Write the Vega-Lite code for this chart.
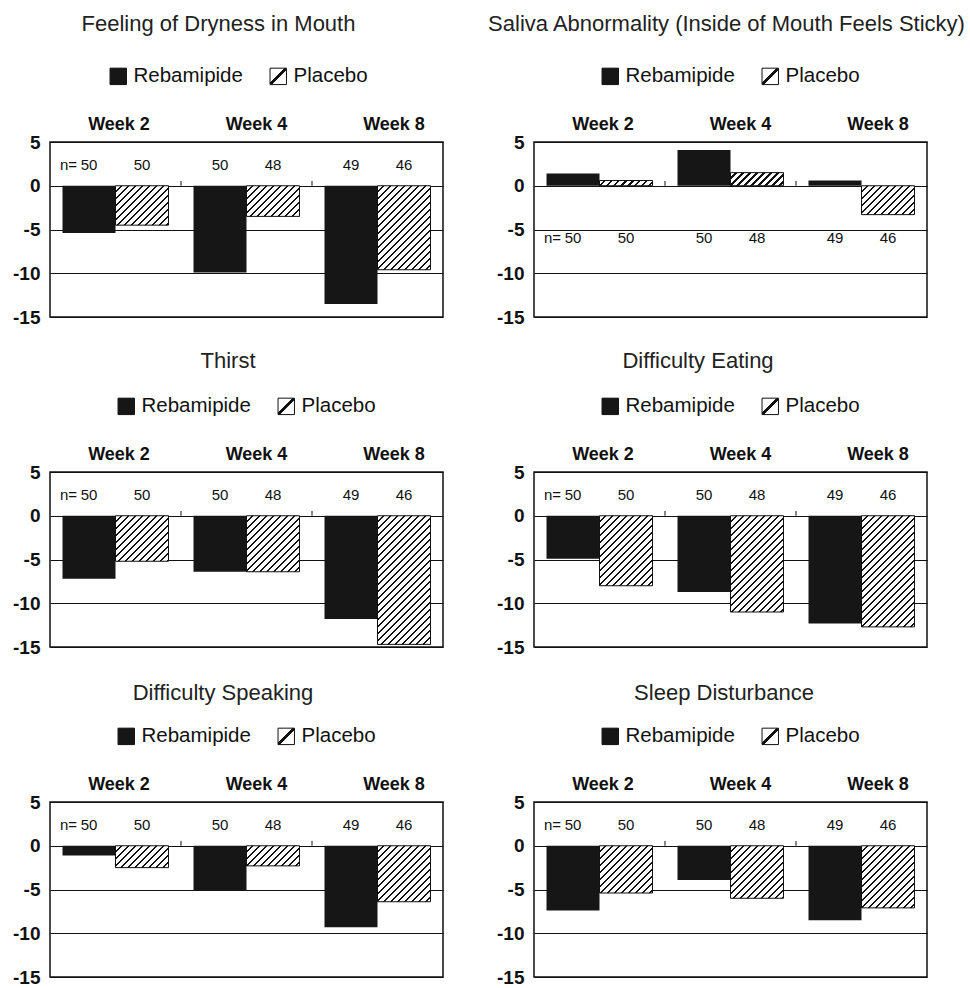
{
"$schema": "https://vega.github.io/schema/vega-lite/v6.json",
"padding": {"left": 11, "top": 12, "right": 0, "bottom": 0},
"config": {
  "font": "Liberation Sans",
  "view": {"stroke": "#111", "strokeWidth": 1.5},
  "title": {"fontSize": 22, "fontWeight": "normal", "color": "#222", "frame": "group", "anchor": "middle"},
  "legend": {"layout": {"top": {"anchor": "middle"}}},
  "axis": {"labelColor": "#111"}
},
"params": [
{"name": "legendHatch", "value": {"gradient": "linear", "x1": 0, "y1": 0, "x2": 1, "y2": 1, "stops": [{"offset":0,"color":"#fff"},{"offset":0.44,"color":"#fff"},{"offset":0.44,"color":"#111"},{"offset":0.56,"color":"#111"},{"offset":0.56,"color":"#fff"},{"offset":1,"color":"#fff"}]}},
{"name": "hatchStops", "value": [
{"offset":0,"color":"#fff"},{"offset":0.0245,"color":"#fff"},{"offset":0.0245,"color":"#111"},{"offset":0.0357,"color":"#111"},
{"offset":0.0357,"color":"#fff"},{"offset":0.0602,"color":"#fff"},{"offset":0.0602,"color":"#111"},{"offset":0.0714,"color":"#111"},
{"offset":0.0714,"color":"#fff"},{"offset":0.0959,"color":"#fff"},{"offset":0.0959,"color":"#111"},{"offset":0.1071,"color":"#111"},
{"offset":0.1071,"color":"#fff"},{"offset":0.1316,"color":"#fff"},{"offset":0.1316,"color":"#111"},{"offset":0.1429,"color":"#111"},
{"offset":0.1429,"color":"#fff"},{"offset":0.1674,"color":"#fff"},{"offset":0.1674,"color":"#111"},{"offset":0.1786,"color":"#111"},
{"offset":0.1786,"color":"#fff"},{"offset":0.2031,"color":"#fff"},{"offset":0.2031,"color":"#111"},{"offset":0.2143,"color":"#111"},
{"offset":0.2143,"color":"#fff"},{"offset":0.2388,"color":"#fff"},{"offset":0.2388,"color":"#111"},{"offset":0.25,"color":"#111"},
{"offset":0.25,"color":"#fff"},{"offset":0.2745,"color":"#fff"},{"offset":0.2745,"color":"#111"},{"offset":0.2857,"color":"#111"},
{"offset":0.2857,"color":"#fff"},{"offset":0.3102,"color":"#fff"},{"offset":0.3102,"color":"#111"},{"offset":0.3214,"color":"#111"},
{"offset":0.3214,"color":"#fff"},{"offset":0.3459,"color":"#fff"},{"offset":0.3459,"color":"#111"},{"offset":0.3571,"color":"#111"},
{"offset":0.3571,"color":"#fff"},{"offset":0.3816,"color":"#fff"},{"offset":0.3816,"color":"#111"},{"offset":0.3929,"color":"#111"},
{"offset":0.3929,"color":"#fff"},{"offset":0.4174,"color":"#fff"},{"offset":0.4174,"color":"#111"},{"offset":0.4286,"color":"#111"},
{"offset":0.4286,"color":"#fff"},{"offset":0.4531,"color":"#fff"},{"offset":0.4531,"color":"#111"},{"offset":0.4643,"color":"#111"},
{"offset":0.4643,"color":"#fff"},{"offset":0.4888,"color":"#fff"},{"offset":0.4888,"color":"#111"},{"offset":0.5,"color":"#111"},
{"offset":0.5,"color":"#fff"},{"offset":0.5245,"color":"#fff"},{"offset":0.5245,"color":"#111"},{"offset":0.5357,"color":"#111"},
{"offset":0.5357,"color":"#fff"},{"offset":0.5602,"color":"#fff"},{"offset":0.5602,"color":"#111"},{"offset":0.5714,"color":"#111"},
{"offset":0.5714,"color":"#fff"},{"offset":0.5959,"color":"#fff"},{"offset":0.5959,"color":"#111"},{"offset":0.6071,"color":"#111"},
{"offset":0.6071,"color":"#fff"},{"offset":0.6316,"color":"#fff"},{"offset":0.6316,"color":"#111"},{"offset":0.6429,"color":"#111"},
{"offset":0.6429,"color":"#fff"},{"offset":0.6674,"color":"#fff"},{"offset":0.6674,"color":"#111"},{"offset":0.6786,"color":"#111"},
{"offset":0.6786,"color":"#fff"},{"offset":0.7031,"color":"#fff"},{"offset":0.7031,"color":"#111"},{"offset":0.7143,"color":"#111"},
{"offset":0.7143,"color":"#fff"},{"offset":0.7388,"color":"#fff"},{"offset":0.7388,"color":"#111"},{"offset":0.75,"color":"#111"},
{"offset":0.75,"color":"#fff"},{"offset":0.7745,"color":"#fff"},{"offset":0.7745,"color":"#111"},{"offset":0.7857,"color":"#111"},
{"offset":0.7857,"color":"#fff"},{"offset":0.8102,"color":"#fff"},{"offset":0.8102,"color":"#111"},{"offset":0.8214,"color":"#111"},
{"offset":0.8214,"color":"#fff"},{"offset":0.8459,"color":"#fff"},{"offset":0.8459,"color":"#111"},{"offset":0.8571,"color":"#111"},
{"offset":0.8571,"color":"#fff"},{"offset":0.8816,"color":"#fff"},{"offset":0.8816,"color":"#111"},{"offset":0.8929,"color":"#111"},
{"offset":0.8929,"color":"#fff"},{"offset":0.9174,"color":"#fff"},{"offset":0.9174,"color":"#111"},{"offset":0.9286,"color":"#111"},
{"offset":0.9286,"color":"#fff"},{"offset":0.9531,"color":"#fff"},{"offset":0.9531,"color":"#111"},{"offset":0.9643,"color":"#111"},
{"offset":0.9643,"color":"#fff"},{"offset":0.9888,"color":"#fff"},{"offset":0.9888,"color":"#111"},{"offset":1,"color":"#111"}
]}],
"datasets": {"d": [
{"panel":"Dryness","week":"Week 2","group":"Rebamipide","value":-5.4,"n":50},
{"panel":"Dryness","week":"Week 2","group":"Placebo","value":-4.5,"n":50},
{"panel":"Dryness","week":"Week 4","group":"Rebamipide","value":-9.9,"n":50},
{"panel":"Dryness","week":"Week 4","group":"Placebo","value":-3.5,"n":48},
{"panel":"Dryness","week":"Week 8","group":"Rebamipide","value":-13.5,"n":49},
{"panel":"Dryness","week":"Week 8","group":"Placebo","value":-9.6,"n":46},
{"panel":"Saliva","week":"Week 2","group":"Rebamipide","value":1.4,"n":50},
{"panel":"Saliva","week":"Week 2","group":"Placebo","value":0.6,"n":50},
{"panel":"Saliva","week":"Week 4","group":"Rebamipide","value":4.1,"n":50},
{"panel":"Saliva","week":"Week 4","group":"Placebo","value":1.5,"n":48},
{"panel":"Saliva","week":"Week 8","group":"Rebamipide","value":0.6,"n":49},
{"panel":"Saliva","week":"Week 8","group":"Placebo","value":-3.3,"n":46},
{"panel":"Thirst","week":"Week 2","group":"Rebamipide","value":-7.2,"n":50},
{"panel":"Thirst","week":"Week 2","group":"Placebo","value":-5.2,"n":50},
{"panel":"Thirst","week":"Week 4","group":"Rebamipide","value":-6.4,"n":50},
{"panel":"Thirst","week":"Week 4","group":"Placebo","value":-6.4,"n":48},
{"panel":"Thirst","week":"Week 8","group":"Rebamipide","value":-11.8,"n":49},
{"panel":"Thirst","week":"Week 8","group":"Placebo","value":-14.7,"n":46},
{"panel":"Eating","week":"Week 2","group":"Rebamipide","value":-4.9,"n":50},
{"panel":"Eating","week":"Week 2","group":"Placebo","value":-8.0,"n":50},
{"panel":"Eating","week":"Week 4","group":"Rebamipide","value":-8.7,"n":50},
{"panel":"Eating","week":"Week 4","group":"Placebo","value":-11.0,"n":48},
{"panel":"Eating","week":"Week 8","group":"Rebamipide","value":-12.3,"n":49},
{"panel":"Eating","week":"Week 8","group":"Placebo","value":-12.7,"n":46},
{"panel":"Speaking","week":"Week 2","group":"Rebamipide","value":-1.1,"n":50},
{"panel":"Speaking","week":"Week 2","group":"Placebo","value":-2.5,"n":50},
{"panel":"Speaking","week":"Week 4","group":"Rebamipide","value":-5.1,"n":50},
{"panel":"Speaking","week":"Week 4","group":"Placebo","value":-2.3,"n":48},
{"panel":"Speaking","week":"Week 8","group":"Rebamipide","value":-9.3,"n":49},
{"panel":"Speaking","week":"Week 8","group":"Placebo","value":-6.4,"n":46},
{"panel":"Sleep","week":"Week 2","group":"Rebamipide","value":-7.4,"n":50},
{"panel":"Sleep","week":"Week 2","group":"Placebo","value":-5.4,"n":50},
{"panel":"Sleep","week":"Week 4","group":"Rebamipide","value":-3.9,"n":50},
{"panel":"Sleep","week":"Week 4","group":"Placebo","value":-6.0,"n":48},
{"panel":"Sleep","week":"Week 8","group":"Rebamipide","value":-8.5,"n":49},
{"panel":"Sleep","week":"Week 8","group":"Placebo","value":-7.1,"n":46}
]},
"columns": 2,
"bounds": "flush",
"spacing": {"row": 155, "column": 91},
"resolve": {"scale": {"fill": "independent"}, "legend": {"fill": "independent"}},
"concat": [
{"width": 393, "height": 175, "title": {"text": "Feeling of Dryness in Mouth", "dx": -28, "offset": 30},
 "data": {"name": "d"}, "transform": [{"filter": "datum.panel === 'Dryness'"}],
 "layer": [
  {"mark": {"type": "bar"}, "encoding": {
    "x": {"field": "week", "type": "nominal", "scale": {"domain": ["Week 2","Week 4","Week 8"], "paddingInner": 0, "paddingOuter": 0}, "axis": {"orient": "top", "title": null, "ticks": false, "domain": false, "labelAngle": 0, "labelFontSize": 18, "labelFontWeight": "bold", "labelPadding": 9, "labelOffset": {"condition": [{"test": "datum.value === 'Week 2'", "value": 3.5}, {"test": "datum.value === 'Week 8'", "value": 16.5}], "value": 10}}},
    "xOffset": {"field": "group", "type": "nominal", "scale": {"domain": ["Rebamipide","Placebo"], "paddingInner": 0, "paddingOuter": 0.236}},
    "y": {"field": "value", "type": "quantitative", "scale": {"domain": [-15, 5], "nice": false}, "axis": {"values": [-15,-10,-5,0,5], "labelExpr": "'' + datum.value", "title": null, "grid": true, "gridColor": "#111", "gridOpacity": 1, "gridWidth": 1, "domain": false, "ticks": false, "labelPadding": 10, "labelFontSize": 19, "labelFontWeight": "bold"}},
    "fill": {"field": "group", "type": "nominal", "scale": {"domain": ["Rebamipide","Placebo"], "range": ["#161616", {"expr": "legendHatch"}]},
      "legend": {"orient": "none", "legendX": 58, "legendY": -76, "direction": "horizontal", "title": null, "symbolType": "square", "symbolSize": 270, "symbolStrokeColor": "#111", "symbolStrokeWidth": 1, "labelFontSize": 20.5, "labelOffset": 5, "columnPadding": 25, "labelColor": "#111"}}
  }},
  {"transform": [{"filter": "datum.group === 'Placebo'"}], "mark": {"type": "bar", "stroke": "#111", "strokeWidth": 1}, "encoding": {
    "x": {"field": "week", "type": "nominal"}, "xOffset": {"field": "group", "type": "nominal"}, "y": {"field": "value", "type": "quantitative"},
    "fill": {"value": {"expr": "{gradient: 'linear', x1: 0, y1: 0, x2: 10388/(2809 + pow(abs(datum.value)*8.75, 2)), y2: 1715*abs(datum.value)/(2809 + pow(abs(datum.value)*8.75, 2)), stops: hatchStops}"}}
  }},
  {"transform": [{"filter": "datum.group === 'Rebamipide' && datum.week !== 'Week 2'"}], "mark": {"type": "rule", "color": "#111", "strokeWidth": 1}, "encoding": {
    "x": {"field": "week", "type": "nominal", "bandPosition": 0}, "y": {"datum": 0}, "y2": {"datum": 0.55}
  }},
  {"mark": {"type": "text", "fontSize": 15, "color": "#111"}, "encoding": {
    "x": {"field": "week", "type": "nominal"}, "xOffset": {"field": "group", "type": "nominal"}, "y": {"datum": 2.4}, "text": {"field": "n"}
  }},
  {"transform": [{"filter": "datum.group === 'Rebamipide' && datum.week === 'Week 2'"}], "mark": {"type": "text", "fontSize": 15, "color": "#111", "align": "right", "dx": -12, "text": "n="}, "encoding": {
    "x": {"field": "week", "type": "nominal"}, "xOffset": {"field": "group", "type": "nominal"}, "y": {"datum": 2.4}
  }}
 ]},
{"width": 393, "height": 175, "title": {"text": "Saliva Abnormality (Inside of Mouth Feels Sticky)", "dx": -4, "offset": 30},
 "data": {"name": "d"}, "transform": [{"filter": "datum.panel === 'Saliva'"}],
 "layer": [
  {"mark": {"type": "bar"}, "encoding": {
    "x": {"field": "week", "type": "nominal", "scale": {"domain": ["Week 2","Week 4","Week 8"], "paddingInner": 0, "paddingOuter": 0}, "axis": {"orient": "top", "title": null, "ticks": false, "domain": false, "labelAngle": 0, "labelFontSize": 18, "labelFontWeight": "bold", "labelPadding": 9, "labelOffset": {"condition": [{"test": "datum.value === 'Week 2'", "value": 3.5}, {"test": "datum.value === 'Week 8'", "value": 16.5}], "value": 10}}},
    "xOffset": {"field": "group", "type": "nominal", "scale": {"domain": ["Rebamipide","Placebo"], "paddingInner": 0, "paddingOuter": 0.236}},
    "y": {"field": "value", "type": "quantitative", "scale": {"domain": [-15, 5], "nice": false}, "axis": {"values": [-15,-10,-5,0,5], "labelExpr": "'' + datum.value", "title": null, "grid": true, "gridColor": "#111", "gridOpacity": 1, "gridWidth": 1, "domain": false, "ticks": false, "labelPadding": 10, "labelFontSize": 19, "labelFontWeight": "bold"}},
    "fill": {"field": "group", "type": "nominal", "scale": {"domain": ["Rebamipide","Placebo"], "range": ["#161616", {"expr": "legendHatch"}]},
      "legend": {"orient": "none", "legendX": 66, "legendY": -76, "direction": "horizontal", "title": null, "symbolType": "square", "symbolSize": 270, "symbolStrokeColor": "#111", "symbolStrokeWidth": 1, "labelFontSize": 20.5, "labelOffset": 5, "columnPadding": 25, "labelColor": "#111"}}
  }},
  {"transform": [{"filter": "datum.group === 'Placebo'"}], "mark": {"type": "bar", "stroke": "#111", "strokeWidth": 1}, "encoding": {
    "x": {"field": "week", "type": "nominal"}, "xOffset": {"field": "group", "type": "nominal"}, "y": {"field": "value", "type": "quantitative"},
    "fill": {"value": {"expr": "{gradient: 'linear', x1: 0, y1: 0, x2: 10388/(2809 + pow(abs(datum.value)*8.75, 2)), y2: 1715*abs(datum.value)/(2809 + pow(abs(datum.value)*8.75, 2)), stops: hatchStops}"}}
  }},
  {"transform": [{"filter": "datum.group === 'Rebamipide' && datum.week !== 'Week 2'"}], "mark": {"type": "rule", "color": "#111", "strokeWidth": 1}, "encoding": {
    "x": {"field": "week", "type": "nominal", "bandPosition": 0}, "y": {"datum": 0}, "y2": {"datum": 0.55}
  }},
  {"mark": {"type": "text", "fontSize": 15, "color": "#111"}, "encoding": {
    "x": {"field": "week", "type": "nominal"}, "xOffset": {"field": "group", "type": "nominal"}, "y": {"datum": -6.0}, "text": {"field": "n"}
  }},
  {"transform": [{"filter": "datum.group === 'Rebamipide' && datum.week === 'Week 2'"}], "mark": {"type": "text", "fontSize": 15, "color": "#111", "align": "right", "dx": -12, "text": "n="}, "encoding": {
    "x": {"field": "week", "type": "nominal"}, "xOffset": {"field": "group", "type": "nominal"}, "y": {"datum": -6.0}
  }}
 ]},
{"width": 393, "height": 175, "title": {"text": "Thirst", "dx": -18.5, "offset": 23},
 "data": {"name": "d"}, "transform": [{"filter": "datum.panel === 'Thirst'"}],
 "layer": [
  {"mark": {"type": "bar"}, "encoding": {
    "x": {"field": "week", "type": "nominal", "scale": {"domain": ["Week 2","Week 4","Week 8"], "paddingInner": 0, "paddingOuter": 0}, "axis": {"orient": "top", "title": null, "ticks": false, "domain": false, "labelAngle": 0, "labelFontSize": 18, "labelFontWeight": "bold", "labelPadding": 9, "labelOffset": {"condition": [{"test": "datum.value === 'Week 2'", "value": 3.5}, {"test": "datum.value === 'Week 8'", "value": 16.5}], "value": 10}}},
    "xOffset": {"field": "group", "type": "nominal", "scale": {"domain": ["Rebamipide","Placebo"], "paddingInner": 0, "paddingOuter": 0.236}},
    "y": {"field": "value", "type": "quantitative", "scale": {"domain": [-15, 5], "nice": false}, "axis": {"values": [-15,-10,-5,0,5], "labelExpr": "'' + datum.value", "title": null, "grid": true, "gridColor": "#111", "gridOpacity": 1, "gridWidth": 1, "domain": false, "ticks": false, "labelPadding": 10, "labelFontSize": 19, "labelFontWeight": "bold"}},
    "fill": {"field": "group", "type": "nominal", "scale": {"domain": ["Rebamipide","Placebo"], "range": ["#161616", {"expr": "legendHatch"}]},
      "legend": {"orient": "none", "legendX": 66, "legendY": -76, "direction": "horizontal", "title": null, "symbolType": "square", "symbolSize": 270, "symbolStrokeColor": "#111", "symbolStrokeWidth": 1, "labelFontSize": 20.5, "labelOffset": 5, "columnPadding": 25, "labelColor": "#111"}}
  }},
  {"transform": [{"filter": "datum.group === 'Placebo'"}], "mark": {"type": "bar", "stroke": "#111", "strokeWidth": 1}, "encoding": {
    "x": {"field": "week", "type": "nominal"}, "xOffset": {"field": "group", "type": "nominal"}, "y": {"field": "value", "type": "quantitative"},
    "fill": {"value": {"expr": "{gradient: 'linear', x1: 0, y1: 0, x2: 10388/(2809 + pow(abs(datum.value)*8.75, 2)), y2: 1715*abs(datum.value)/(2809 + pow(abs(datum.value)*8.75, 2)), stops: hatchStops}"}}
  }},
  {"transform": [{"filter": "datum.group === 'Rebamipide' && datum.week !== 'Week 2'"}], "mark": {"type": "rule", "color": "#111", "strokeWidth": 1}, "encoding": {
    "x": {"field": "week", "type": "nominal", "bandPosition": 0}, "y": {"datum": 0}, "y2": {"datum": 0.55}
  }},
  {"mark": {"type": "text", "fontSize": 15, "color": "#111"}, "encoding": {
    "x": {"field": "week", "type": "nominal"}, "xOffset": {"field": "group", "type": "nominal"}, "y": {"datum": 2.4}, "text": {"field": "n"}
  }},
  {"transform": [{"filter": "datum.group === 'Rebamipide' && datum.week === 'Week 2'"}], "mark": {"type": "text", "fontSize": 15, "color": "#111", "align": "right", "dx": -12, "text": "n="}, "encoding": {
    "x": {"field": "week", "type": "nominal"}, "xOffset": {"field": "group", "type": "nominal"}, "y": {"datum": 2.4}
  }}
 ]},
{"width": 393, "height": 175, "title": {"text": "Difficulty Eating", "dx": -32.5, "offset": 23},
 "data": {"name": "d"}, "transform": [{"filter": "datum.panel === 'Eating'"}],
 "layer": [
  {"mark": {"type": "bar"}, "encoding": {
    "x": {"field": "week", "type": "nominal", "scale": {"domain": ["Week 2","Week 4","Week 8"], "paddingInner": 0, "paddingOuter": 0}, "axis": {"orient": "top", "title": null, "ticks": false, "domain": false, "labelAngle": 0, "labelFontSize": 18, "labelFontWeight": "bold", "labelPadding": 9, "labelOffset": {"condition": [{"test": "datum.value === 'Week 2'", "value": 3.5}, {"test": "datum.value === 'Week 8'", "value": 16.5}], "value": 10}}},
    "xOffset": {"field": "group", "type": "nominal", "scale": {"domain": ["Rebamipide","Placebo"], "paddingInner": 0, "paddingOuter": 0.236}},
    "y": {"field": "value", "type": "quantitative", "scale": {"domain": [-15, 5], "nice": false}, "axis": {"values": [-15,-10,-5,0,5], "labelExpr": "'' + datum.value", "title": null, "grid": true, "gridColor": "#111", "gridOpacity": 1, "gridWidth": 1, "domain": false, "ticks": false, "labelPadding": 10, "labelFontSize": 19, "labelFontWeight": "bold"}},
    "fill": {"field": "group", "type": "nominal", "scale": {"domain": ["Rebamipide","Placebo"], "range": ["#161616", {"expr": "legendHatch"}]},
      "legend": {"orient": "none", "legendX": 66, "legendY": -76, "direction": "horizontal", "title": null, "symbolType": "square", "symbolSize": 270, "symbolStrokeColor": "#111", "symbolStrokeWidth": 1, "labelFontSize": 20.5, "labelOffset": 5, "columnPadding": 25, "labelColor": "#111"}}
  }},
  {"transform": [{"filter": "datum.group === 'Placebo'"}], "mark": {"type": "bar", "stroke": "#111", "strokeWidth": 1}, "encoding": {
    "x": {"field": "week", "type": "nominal"}, "xOffset": {"field": "group", "type": "nominal"}, "y": {"field": "value", "type": "quantitative"},
    "fill": {"value": {"expr": "{gradient: 'linear', x1: 0, y1: 0, x2: 10388/(2809 + pow(abs(datum.value)*8.75, 2)), y2: 1715*abs(datum.value)/(2809 + pow(abs(datum.value)*8.75, 2)), stops: hatchStops}"}}
  }},
  {"transform": [{"filter": "datum.group === 'Rebamipide' && datum.week !== 'Week 2'"}], "mark": {"type": "rule", "color": "#111", "strokeWidth": 1}, "encoding": {
    "x": {"field": "week", "type": "nominal", "bandPosition": 0}, "y": {"datum": 0}, "y2": {"datum": 0.55}
  }},
  {"mark": {"type": "text", "fontSize": 15, "color": "#111"}, "encoding": {
    "x": {"field": "week", "type": "nominal"}, "xOffset": {"field": "group", "type": "nominal"}, "y": {"datum": 2.4}, "text": {"field": "n"}
  }},
  {"transform": [{"filter": "datum.group === 'Rebamipide' && datum.week === 'Week 2'"}], "mark": {"type": "text", "fontSize": 15, "color": "#111", "align": "right", "dx": -12, "text": "n="}, "encoding": {
    "x": {"field": "week", "type": "nominal"}, "xOffset": {"field": "group", "type": "nominal"}, "y": {"datum": 2.4}
  }}
 ]},
{"width": 393, "height": 175, "title": {"text": "Difficulty Speaking", "dx": -23.5, "offset": 21},
 "data": {"name": "d"}, "transform": [{"filter": "datum.panel === 'Speaking'"}],
 "layer": [
  {"mark": {"type": "bar"}, "encoding": {
    "x": {"field": "week", "type": "nominal", "scale": {"domain": ["Week 2","Week 4","Week 8"], "paddingInner": 0, "paddingOuter": 0}, "axis": {"orient": "top", "title": null, "ticks": false, "domain": false, "labelAngle": 0, "labelFontSize": 18, "labelFontWeight": "bold", "labelPadding": 9, "labelOffset": {"condition": [{"test": "datum.value === 'Week 2'", "value": 3.5}, {"test": "datum.value === 'Week 8'", "value": 16.5}], "value": 10}}},
    "xOffset": {"field": "group", "type": "nominal", "scale": {"domain": ["Rebamipide","Placebo"], "paddingInner": 0, "paddingOuter": 0.236}},
    "y": {"field": "value", "type": "quantitative", "scale": {"domain": [-15, 5], "nice": false}, "axis": {"values": [-15,-10,-5,0,5], "labelExpr": "'' + datum.value", "title": null, "grid": true, "gridColor": "#111", "gridOpacity": 1, "gridWidth": 1, "domain": false, "ticks": false, "labelPadding": 10, "labelFontSize": 19, "labelFontWeight": "bold"}},
    "fill": {"field": "group", "type": "nominal", "scale": {"domain": ["Rebamipide","Placebo"], "range": ["#161616", {"expr": "legendHatch"}]},
      "legend": {"orient": "none", "legendX": 66, "legendY": -76, "direction": "horizontal", "title": null, "symbolType": "square", "symbolSize": 270, "symbolStrokeColor": "#111", "symbolStrokeWidth": 1, "labelFontSize": 20.5, "labelOffset": 5, "columnPadding": 25, "labelColor": "#111"}}
  }},
  {"transform": [{"filter": "datum.group === 'Placebo'"}], "mark": {"type": "bar", "stroke": "#111", "strokeWidth": 1}, "encoding": {
    "x": {"field": "week", "type": "nominal"}, "xOffset": {"field": "group", "type": "nominal"}, "y": {"field": "value", "type": "quantitative"},
    "fill": {"value": {"expr": "{gradient: 'linear', x1: 0, y1: 0, x2: 10388/(2809 + pow(abs(datum.value)*8.75, 2)), y2: 1715*abs(datum.value)/(2809 + pow(abs(datum.value)*8.75, 2)), stops: hatchStops}"}}
  }},
  {"transform": [{"filter": "datum.group === 'Rebamipide' && datum.week !== 'Week 2'"}], "mark": {"type": "rule", "color": "#111", "strokeWidth": 1}, "encoding": {
    "x": {"field": "week", "type": "nominal", "bandPosition": 0}, "y": {"datum": 0}, "y2": {"datum": 0.55}
  }},
  {"mark": {"type": "text", "fontSize": 15, "color": "#111"}, "encoding": {
    "x": {"field": "week", "type": "nominal"}, "xOffset": {"field": "group", "type": "nominal"}, "y": {"datum": 2.4}, "text": {"field": "n"}
  }},
  {"transform": [{"filter": "datum.group === 'Rebamipide' && datum.week === 'Week 2'"}], "mark": {"type": "text", "fontSize": 15, "color": "#111", "align": "right", "dx": -12, "text": "n="}, "encoding": {
    "x": {"field": "week", "type": "nominal"}, "xOffset": {"field": "group", "type": "nominal"}, "y": {"datum": 2.4}
  }}
 ]},
{"width": 393, "height": 175, "title": {"text": "Sleep Disturbance", "dx": -6.5, "offset": 21},
 "data": {"name": "d"}, "transform": [{"filter": "datum.panel === 'Sleep'"}],
 "layer": [
  {"mark": {"type": "bar"}, "encoding": {
    "x": {"field": "week", "type": "nominal", "scale": {"domain": ["Week 2","Week 4","Week 8"], "paddingInner": 0, "paddingOuter": 0}, "axis": {"orient": "top", "title": null, "ticks": false, "domain": false, "labelAngle": 0, "labelFontSize": 18, "labelFontWeight": "bold", "labelPadding": 9, "labelOffset": {"condition": [{"test": "datum.value === 'Week 2'", "value": 3.5}, {"test": "datum.value === 'Week 8'", "value": 16.5}], "value": 10}}},
    "xOffset": {"field": "group", "type": "nominal", "scale": {"domain": ["Rebamipide","Placebo"], "paddingInner": 0, "paddingOuter": 0.236}},
    "y": {"field": "value", "type": "quantitative", "scale": {"domain": [-15, 5], "nice": false}, "axis": {"values": [-15,-10,-5,0,5], "labelExpr": "'' + datum.value", "title": null, "grid": true, "gridColor": "#111", "gridOpacity": 1, "gridWidth": 1, "domain": false, "ticks": false, "labelPadding": 10, "labelFontSize": 19, "labelFontWeight": "bold"}},
    "fill": {"field": "group", "type": "nominal", "scale": {"domain": ["Rebamipide","Placebo"], "range": ["#161616", {"expr": "legendHatch"}]},
      "legend": {"orient": "none", "legendX": 66, "legendY": -76, "direction": "horizontal", "title": null, "symbolType": "square", "symbolSize": 270, "symbolStrokeColor": "#111", "symbolStrokeWidth": 1, "labelFontSize": 20.5, "labelOffset": 5, "columnPadding": 25, "labelColor": "#111"}}
  }},
  {"transform": [{"filter": "datum.group === 'Placebo'"}], "mark": {"type": "bar", "stroke": "#111", "strokeWidth": 1}, "encoding": {
    "x": {"field": "week", "type": "nominal"}, "xOffset": {"field": "group", "type": "nominal"}, "y": {"field": "value", "type": "quantitative"},
    "fill": {"value": {"expr": "{gradient: 'linear', x1: 0, y1: 0, x2: 10388/(2809 + pow(abs(datum.value)*8.75, 2)), y2: 1715*abs(datum.value)/(2809 + pow(abs(datum.value)*8.75, 2)), stops: hatchStops}"}}
  }},
  {"transform": [{"filter": "datum.group === 'Rebamipide' && datum.week !== 'Week 2'"}], "mark": {"type": "rule", "color": "#111", "strokeWidth": 1}, "encoding": {
    "x": {"field": "week", "type": "nominal", "bandPosition": 0}, "y": {"datum": 0}, "y2": {"datum": 0.55}
  }},
  {"mark": {"type": "text", "fontSize": 15, "color": "#111"}, "encoding": {
    "x": {"field": "week", "type": "nominal"}, "xOffset": {"field": "group", "type": "nominal"}, "y": {"datum": 2.4}, "text": {"field": "n"}
  }},
  {"transform": [{"filter": "datum.group === 'Rebamipide' && datum.week === 'Week 2'"}], "mark": {"type": "text", "fontSize": 15, "color": "#111", "align": "right", "dx": -12, "text": "n="}, "encoding": {
    "x": {"field": "week", "type": "nominal"}, "xOffset": {"field": "group", "type": "nominal"}, "y": {"datum": 2.4}
  }}
 ]}
]
}
